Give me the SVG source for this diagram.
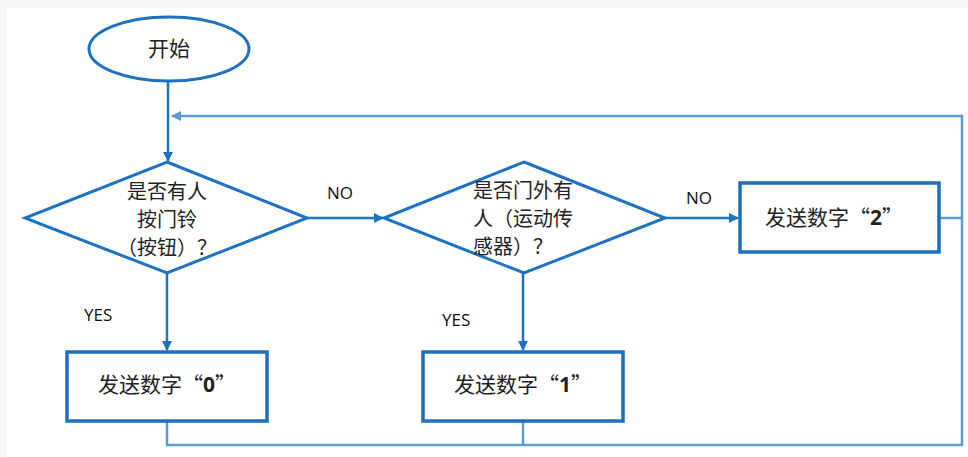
<svg xmlns="http://www.w3.org/2000/svg" width="968" height="457" viewBox="0 0 968 457">
<style>
.shape{fill:#ffffff;stroke:#1d72c2;stroke-width:3}
.box{fill:#ffffff;stroke:#1d6fbf;stroke-width:3.5}
.main{fill:none;stroke:#1d72c2;stroke-width:2.5}
.ret{fill:none;stroke:#5b9bd5;stroke-width:2.5}
.cjk{font-family:"Noto Sans CJK SC","Noto Sans",sans-serif;font-size:21px;fill:#222222}
.dt{font-size:20px}
.lbl{font-family:"Open Sans","Liberation Sans",sans-serif;font-size:17px;fill:#111111}
.num{font-family:"Open Sans","Liberation Sans",sans-serif;font-weight:bold}
</style>
<defs>
<marker id="ah" viewBox="0 0 10 10" refX="9" refY="5" markerWidth="4" markerHeight="4" orient="auto" markerUnits="strokeWidth">
<path d="M0,0 L10,5 L0,10 z" fill="#1d72c2"/>
</marker>
<marker id="ah2" viewBox="0 0 10 10" refX="9" refY="5" markerWidth="4" markerHeight="4" orient="auto" markerUnits="strokeWidth">
<path d="M0,0 L10,5 L0,10 z" fill="#5b9bd5"/>
</marker>
</defs>
<rect x="0" y="0" width="968" height="457" fill="#f7f7f7"/>
<rect x="7" y="8" width="961" height="449" fill="#ffffff"/>
<g id="connectors">
<line class="main" x1="168" y1="81" x2="168" y2="161" marker-end="url(#ah)"/>
<polyline class="ret" points="962,218 962,116 172,116" marker-end="url(#ah2)"/>
<line class="ret" x1="939" y1="218" x2="962" y2="218"/>
<line class="main" x1="307" y1="218" x2="383" y2="218" marker-end="url(#ah)"/>
<line class="main" x1="665" y1="218" x2="738" y2="218" marker-end="url(#ah)"/>
<line class="main" x1="167" y1="273" x2="167" y2="350" marker-end="url(#ah)"/>
<line class="main" x1="523" y1="273" x2="523" y2="350" marker-end="url(#ah)"/>
<polyline class="ret" points="167,421 167,445 962,445 962,218"/>
<line class="ret" x1="523" y1="421" x2="523" y2="445"/>
<text class="lbl" x="327" y="199">NO</text>
<text class="lbl" x="686" y="204">NO</text>
<text class="lbl" x="84" y="321">YES</text>
<text class="lbl" x="442" y="326">YES</text>
</g>
<g id="start">
<ellipse class="shape" cx="169" cy="49" rx="80" ry="32"/>
<text class="cjk" x="169" y="56" text-anchor="middle">开始</text>
</g>
<g id="decision1">
<polygon class="shape" points="167,162 307,218 167,273 25,218"/>
<text class="cjk dt" x="167" y="199" text-anchor="middle">是否有人</text>
<text class="cjk dt" x="167" y="227" text-anchor="middle">按门铃</text>
<text class="cjk dt" x="167" y="255" text-anchor="middle">（按钮）？</text>
</g>
<g id="decision2">
<polygon class="shape" points="524,162 665,218 524,273 384,218"/>
<text class="cjk dt" x="473" y="198">是否门外有</text>
<text class="cjk dt" x="473" y="226">人（运动传</text>
<text class="cjk dt" x="473" y="254">感器）？</text>
</g>
<g id="send2">
<rect class="box" x="740" y="183" width="199" height="69"/>
<text class="cjk" x="834" y="225" text-anchor="middle">发送数字“<tspan class="num">2</tspan>”</text>
</g>
<g id="send0">
<rect class="box" x="67" y="352" width="200" height="69"/>
<text class="cjk" x="167" y="392" text-anchor="middle">发送数字“<tspan class="num">0</tspan>”</text>
</g>
<g id="send1">
<rect class="box" x="423" y="352" width="200" height="69"/>
<text class="cjk" x="523" y="392" text-anchor="middle">发送数字“<tspan class="num">1</tspan>”</text>
</g>
</svg>
